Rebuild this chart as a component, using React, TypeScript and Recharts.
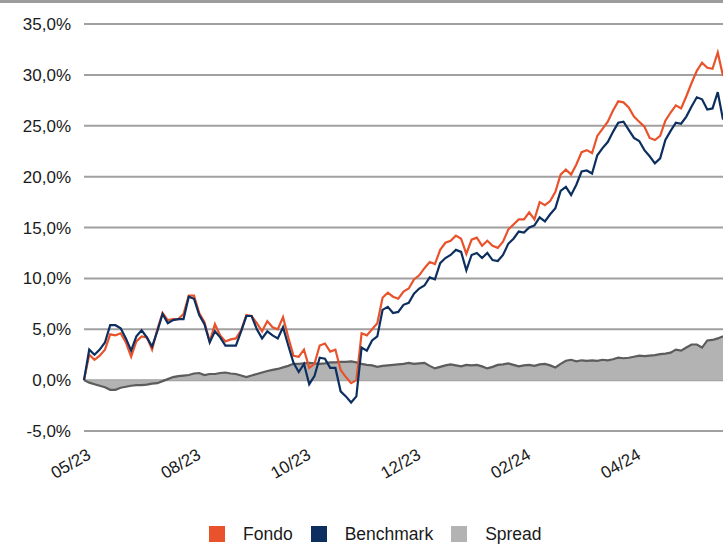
import { ComposedChart, Line, Area, XAxis, YAxis, CartesianGrid, Legend } from 'recharts'

const FONDO = [
  0, 2.5, 2.0, 2.4, 3.0, 4.5, 4.4, 4.6, 3.7, 2.3,
  3.8, 4.3, 4.2, 3.0, 5.0, 6.6, 5.9, 6.0, 6.0, 6.5,
  8.3, 8.3, 6.6, 5.7, 3.8, 5.5, 4.4, 3.8, 4.0, 4.1,
  4.9, 6.4, 6.3, 5.6, 4.8, 5.8, 5.2, 5.0, 6.2, 4.2,
  2.4, 2.3, 3.0, 1.2, 1.6, 3.4, 3.6, 2.8, 3.0, 1.0,
  0.3, -0.3, 0.0, 4.6, 4.4, 5.0, 5.6, 8.1, 8.6, 8.2,
  8.0, 8.7, 9.0, 9.9, 10.3, 11.0, 11.6, 11.4, 12.8, 13.5,
  13.7, 14.2, 13.9, 12.4, 13.8, 14.0, 13.2, 13.7, 13.2, 13.0,
  13.6, 14.8, 15.3, 15.8, 15.8, 16.5, 15.8, 17.5, 17.2, 17.6,
  18.5, 20.2, 20.7, 20.2, 21.2, 22.4, 22.6, 22.3, 24.0, 24.7,
  25.4, 26.5, 27.4, 27.3, 26.8, 25.9, 25.4, 24.9, 23.8, 23.6,
  24.0, 25.5, 26.3, 27.0, 26.7, 27.9, 29.2, 30.4, 31.2, 30.7,
  30.6, 32.2, 29.9,
]

const BENCHMARK = [
  0, 3.0, 2.5, 3.0, 3.7, 5.4, 5.4, 5.1, 4.1, 2.9,
  4.3, 4.9, 4.2, 3.3, 4.8, 6.5, 5.6, 5.9, 6.0, 6.0,
  8.2, 8.0, 6.4, 5.5, 3.7, 4.8, 4.2, 3.4, 3.4, 3.4,
  4.8, 6.3, 6.3, 5.0, 4.1, 4.8, 4.4, 4.1, 5.2, 3.4,
  1.7, 0.8, 1.6, -0.4, 0.4, 2.2, 2.1, 1.2, 1.2, -1.1,
  -1.6, -2.2, -1.6, 3.2, 2.9, 3.9, 4.3, 6.9, 7.2, 6.6,
  6.7, 7.4, 7.6, 8.5, 9.0, 9.3, 10.1, 9.9, 11.5, 12.0,
  12.3, 12.8, 12.6, 10.8, 12.3, 12.5, 12.0, 12.5, 11.8, 11.7,
  12.3, 13.4, 13.9, 14.6, 14.5, 15.0, 15.2, 16.0, 15.6, 16.3,
  16.9, 18.6, 19.0, 18.2, 19.2, 20.5, 20.6, 20.3, 22.1, 22.8,
  23.4, 24.4, 25.3, 25.4, 24.6, 23.8, 23.5, 22.6, 22.0, 21.3,
  21.8, 23.6, 24.5, 25.3, 25.2, 25.9, 26.9, 27.8, 27.6, 26.6,
  26.7, 28.3, 25.6,
]

const SPREAD = [
  0, -0.25, -0.4, -0.55, -0.7, -0.95, -0.95, -0.75, -0.65, -0.55,
  -0.5, -0.5, -0.45, -0.35, -0.3, -0.1, 0.1, 0.3, 0.4, 0.45,
  0.5, 0.65, 0.7, 0.5, 0.6, 0.6, 0.7, 0.75, 0.65, 0.6,
  0.45, 0.3, 0.45, 0.6, 0.75, 0.9, 1.0, 1.1, 1.25, 1.4,
  1.6, 1.6, 1.65, 1.7, 1.65, 1.6, 1.65, 1.75, 1.75, 1.8,
  1.8, 1.85, 1.75, 1.6, 1.5, 1.45, 1.3, 1.4, 1.45, 1.5,
  1.55, 1.6, 1.7, 1.6, 1.65, 1.7, 1.4, 1.15, 1.3, 1.45,
  1.55, 1.45, 1.35, 1.5, 1.45, 1.5, 1.35, 1.15, 1.3, 1.5,
  1.55, 1.65, 1.5, 1.35, 1.45, 1.5, 1.4, 1.55, 1.6, 1.45,
  1.25, 1.6, 1.9, 2.0, 1.85, 1.95, 1.9, 1.95, 1.9, 2.0,
  1.95, 2.05, 2.2, 2.15, 2.2, 2.3, 2.4, 2.35, 2.4, 2.45,
  2.55, 2.6, 2.7, 3.0, 2.9, 3.2, 3.5, 3.5, 3.2, 3.9,
  3.95, 4.1, 4.3,
]

const TICK_INDEX = [0, 21, 42, 63, 84, 105]
const TICK_LABELS = ['05/23', '08/23', '10/23', '12/23', '02/24', '04/24']
const Y_TICKS = [-5, 0, 5, 10, 15, 20, 25, 30, 35]

const SERIES = [
  { name: 'Fondo', color: '#e9532b' },
  { name: 'Benchmark', color: '#0c2f5f' },
  { name: 'Spread', color: '#b3b3b3' },
]

const FONT = '"Liberation Sans", Arial, sans-serif'

const data = FONDO.map((f, i) => ({
  i,
  fondo: f,
  benchmark: BENCHMARK[i],
  spread: SPREAD[i],
}))

function XTick({ x, y, payload }: any) {
  const idx = TICK_INDEX.indexOf(payload.value)
  const tx = x + 8
  const ty = y + 19
  return (
    <text
      x={tx}
      y={ty}
      transform={`rotate(-30, ${tx}, ${ty})`}
      textAnchor="end"
      fontSize={17}
      fontFamily={FONT}
      fill="#1a1a1a"
    >
      {TICK_LABELS[idx]}
    </text>
  )
}

function LegendBox() {
  return (
    <div style={{ display: 'flex', alignItems: 'center', paddingLeft: 209, fontFamily: FONT, fontSize: 17.5, lineHeight: '20px', color: '#1a1a1a' }}>
      {SERIES.map((s) => (
        <div key={s.name} style={{ display: 'flex', alignItems: 'center', marginRight: 18 }}>
          <span style={{ width: 16, height: 16, background: s.color, display: 'inline-block', marginRight: 18 }} />
          <span>{s.name}</span>
        </div>
      ))}
    </div>
  )
}

export default function App() {
  return (
    <div style={{ position: 'relative', width: 723, height: 544, background: '#fff', overflow: 'hidden' }}>
      <style>{'body{margin:0}'}</style>
      <div style={{ position: 'absolute', top: 0, left: 0, width: 723, height: 3, background: '#9d9d9d' }} />
      <ComposedChart width={723} height={544} data={data} margin={{ top: 24, right: 0, bottom: 0, left: 0 }}>
        <CartesianGrid vertical={false} stroke="#a0a0a0" strokeWidth={2} />
        <XAxis
          dataKey="i"
          type="number"
          domain={[0, 122]}
          ticks={TICK_INDEX}
          tick={<XTick />}
          tickLine={false}
          axisLine={false}
          height={89}
          interval={0}
        />
        <YAxis
          domain={[-5, 35]}
          ticks={Y_TICKS}
          width={84}
          tickLine={false}
          axisLine={false}
          tickSize={0}
          tickMargin={13}
          tick={{ fontSize: 17, fontFamily: FONT, fill: '#1a1a1a' }}
          tickFormatter={(v: number) => v.toFixed(1).replace('.', ',') + '%'}
        />
        <Area
          type="linear"
          dataKey="spread"
          name="Spread"
          baseValue={0}
          fill="#b3b3b3"
          fillOpacity={1}
          stroke="#5c5c5c"
          strokeWidth={2.2}
          dot={false}
          activeDot={false}
          isAnimationActive={false}
        />
        <Line type="linear" dataKey="fondo" name="Fondo" stroke="#e9532b" strokeWidth={2.2} dot={false} activeDot={false} isAnimationActive={false} />
        <Line type="linear" dataKey="benchmark" name="Benchmark" stroke="#0c2f5f" strokeWidth={2.2} dot={false} activeDot={false} isAnimationActive={false} />
        <Legend verticalAlign="bottom" height={30} content={<LegendBox />} wrapperStyle={{ left: 0, width: 723, bottom: -4, height: 24 }} />
      </ComposedChart>
    </div>
  )
}
